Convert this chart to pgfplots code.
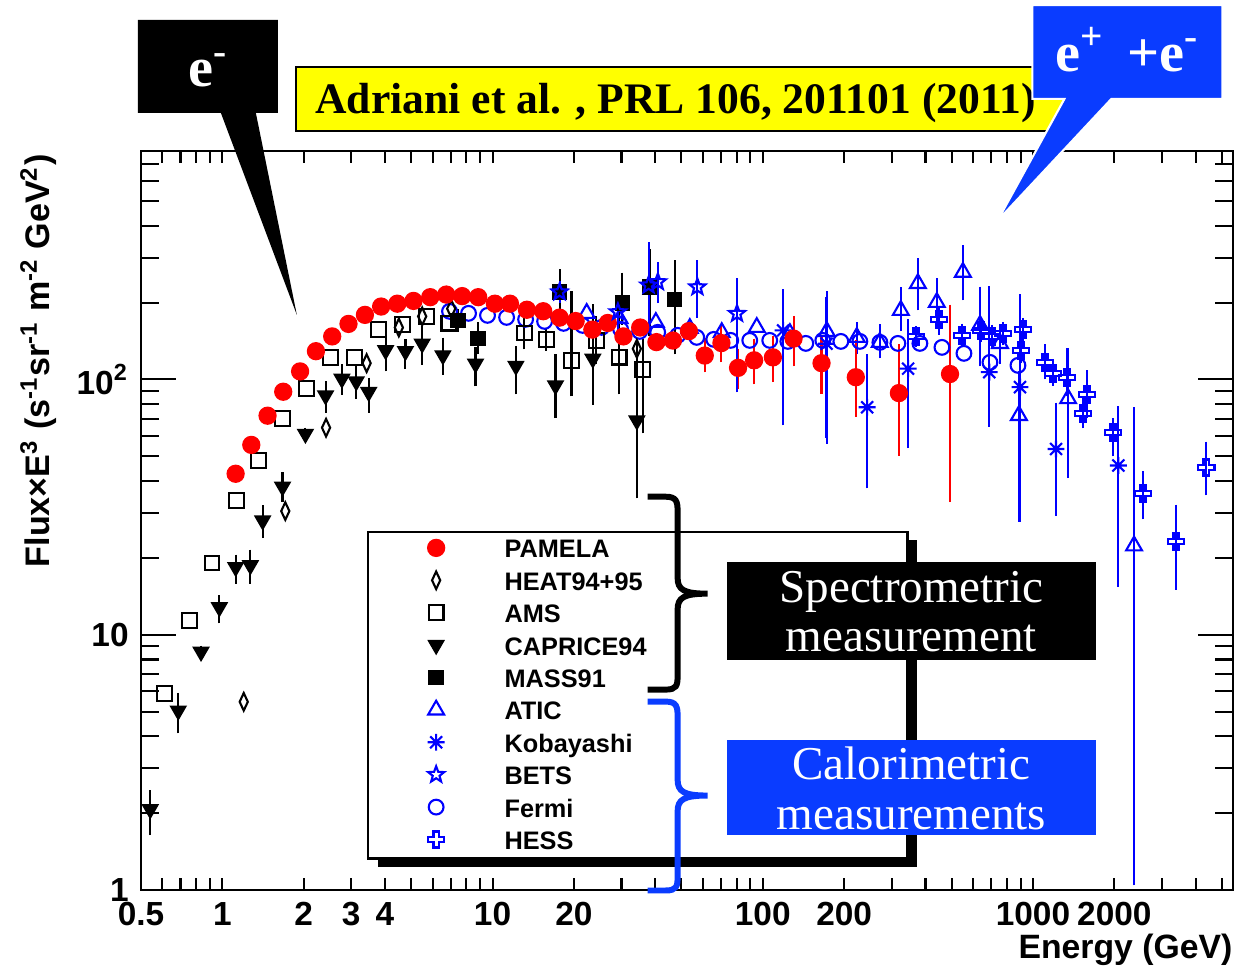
\documentclass[border=0pt]{standalone}
\usepackage{pgfplots}
\pgfplotsset{compat=1.18}
\usepackage{pgfplotstable}
\usepackage{fontspec}
\setmainfont{Liberation Serif}
\setsansfont{Liberation Sans}
\definecolor{boxblue}{RGB}{10,60,255}
\definecolor{ylw}{RGB}{255,255,0}

\pgfdeclareplotmark{ostar}{%
  \pgfpathmoveto{\pgfpointpolar{90}{\pgfplotmarksize}}%
  \pgfpathlineto{\pgfpointpolar{126}{0.42\pgfplotmarksize}}%
  \pgfpathlineto{\pgfpointpolar{162}{\pgfplotmarksize}}%
  \pgfpathlineto{\pgfpointpolar{198}{0.42\pgfplotmarksize}}%
  \pgfpathlineto{\pgfpointpolar{234}{\pgfplotmarksize}}%
  \pgfpathlineto{\pgfpointpolar{270}{0.42\pgfplotmarksize}}%
  \pgfpathlineto{\pgfpointpolar{306}{\pgfplotmarksize}}%
  \pgfpathlineto{\pgfpointpolar{342}{0.42\pgfplotmarksize}}%
  \pgfpathlineto{\pgfpointpolar{18}{\pgfplotmarksize}}%
  \pgfpathlineto{\pgfpointpolar{54}{0.42\pgfplotmarksize}}%
  \pgfpathclose
  \pgfusepathqstroke
}
\pgfdeclareplotmark{hessplus}{%
  \pgfpathmoveto{\pgfpoint{0.32\pgfplotmarksize}{\pgfplotmarksize}}%
  \pgfpathlineto{\pgfpoint{0.32\pgfplotmarksize}{0.32\pgfplotmarksize}}%
  \pgfpathlineto{\pgfpoint{\pgfplotmarksize}{0.32\pgfplotmarksize}}%
  \pgfpathlineto{\pgfpoint{\pgfplotmarksize}{-0.32\pgfplotmarksize}}%
  \pgfpathlineto{\pgfpoint{0.32\pgfplotmarksize}{-0.32\pgfplotmarksize}}%
  \pgfpathlineto{\pgfpoint{0.32\pgfplotmarksize}{-1\pgfplotmarksize}}%
  \pgfpathlineto{\pgfpoint{-0.32\pgfplotmarksize}{-1\pgfplotmarksize}}%
  \pgfpathlineto{\pgfpoint{-0.32\pgfplotmarksize}{-0.32\pgfplotmarksize}}%
  \pgfpathlineto{\pgfpoint{-1\pgfplotmarksize}{-0.32\pgfplotmarksize}}%
  \pgfpathlineto{\pgfpoint{-1\pgfplotmarksize}{0.32\pgfplotmarksize}}%
  \pgfpathlineto{\pgfpoint{-0.32\pgfplotmarksize}{0.32\pgfplotmarksize}}%
  \pgfpathlineto{\pgfpoint{-0.32\pgfplotmarksize}{\pgfplotmarksize}}%
  \pgfpathclose
  \pgfusepathqstroke
}
\pgfdeclareplotmark{ast8}{%
  \pgfpathmoveto{\pgfpoint{-1\pgfplotmarksize}{0pt}}\pgfpathlineto{\pgfpoint{\pgfplotmarksize}{0pt}}%
  \pgfpathmoveto{\pgfpoint{0pt}{-1\pgfplotmarksize}}\pgfpathlineto{\pgfpoint{0pt}{\pgfplotmarksize}}%
  \pgfpathmoveto{\pgfpoint{-0.707\pgfplotmarksize}{-0.707\pgfplotmarksize}}\pgfpathlineto{\pgfpoint{0.707\pgfplotmarksize}{0.707\pgfplotmarksize}}%
  \pgfpathmoveto{\pgfpoint{-0.707\pgfplotmarksize}{0.707\pgfplotmarksize}}\pgfpathlineto{\pgfpoint{0.707\pgfplotmarksize}{-0.707\pgfplotmarksize}}%
  \pgfusepathqstroke
}

\pgfplotstableread{
x y ep em
1.12 42.7 0 0
1.28 55.4 0 0
1.47 72.1 0 0
1.68 89.5 0 0
1.94 107.5 0 0
2.22 129 0 0
2.55 147.4 0 0
2.93 165 0 0
3.37 179 0 0
3.87 193 0 0
4.44 198 0 0
5.10 203 0 0
5.88 210 0 0
6.74 215 0 0
7.72 212 0 0
8.85 210 0 0
10.2 198 0 0
11.6 198 0 0
13.4 187.5 0 0
15.4 185 0 0
17.7 174.6 0 0
20.3 169.3 0 0
23.4 156.7 0 0
26.7 166.4 0 0
30.5 147.4 0 0
35.2 159.7 0 0
40.4 140 0 0
46.5 142 0 0
53.3 154.6 0 0
61 124 13.2 11.6
70.3 138.8 14.2 15.8
81 111 14 14.5
92.9 118.8 18.2 17.8
109 122 18 19
130 144.5 23.5 25.7
165 115.8 24.2 23
221 102 32.6 26.5
319 88.4 41.6 35.4
493 105 81 70.1
}\pamela

\pgfplotstableread{
x y ep em
0.541 2.07 0.26 0.34
0.687 5.04 0.57 0.71
0.834 8.57 0 0
0.975 12.8 0.7 1.1
1.12 18.4 1.1 1.7
1.27 18.7 1.7 2.0
1.41 28.0 2.5 2.8
1.67 38.0 3 3
2.03 61.2 0 0
2.41 86.5 6.8 8.2
2.77 100.6 7.9 8.6
3.13 98.2 8.6 9.8
3.48 89.2 7.0 10.9
4.02 130 10 16.5
4.76 129 7 13.2
5.49 138 15 17.5
6.55 124.2 13.8 14.2
8.65 115.2 11.3 16.1
12.2 113 15 20.8
17.1 94.7 24.1 20.2
23.5 120.5 66 36.5
34.2 69.0 64.9 32.9
}\caprice

\pgfplotstableread{
x y
1.2 5.46
1.71 30.5
2.42 64.7
3.42 115.8
4.5 159.7
5.49 176.6
7.03 189.3
34.2 131.9
}\heat

\pgfplotstableread{
x y
0.61 5.89
0.755 11.35
0.916 19.1
1.13 33.5
1.36 48.1
1.67 70.1
2.05 92
2.51 121.6
3.08 121.6
3.79 156.6
4.65 164
5.68 176.6
6.89 166.2
}\amsa

\pgfplotstableread{
x y ep em
13.1 152 18.2 13.6
15.8 143.2 6.5 6.3
19.6 118.8 91 28.2
24.2 142.2 25.2 21.4
29.4 122.3 52.7 30.1
36.0 109.1 26.8 44.2
}\amsb

\pgfplotstableread{
x y ep em
7.44 170.2 8 8
8.83 144.5 14 12.1
17.7 219.8 35.9 27.5
30.2 199 49.1 26
38.1 230 76 74.4
47.2 205.6 71.9 73.2
}\mass

\pgfplotstableread{
x y ep em
17.7 219.8 10 10
29.1 183.7 17 20
37.8 233.8 92.8 73.8
40.9 240.9 31.1 31
57.3 230 47.5 46.3
80.3 181 55 87.1
}\bets

\pgfplotstableread{
x y ep em
118.9 155.6 57.7 85.9
172.2 138 72.2 79
243.4 77.8 41 38.3
345 110.2 52.7 53.4
689 106.8 112.8 37.8
895 93.3 110.7 64
1217 53.4 23.5 22.5
2070 46.0 28.5 29.7
}\koba

\pgfplotstableread{
x y
22.3 181.6
29.5 173.4
40.2 167.4
53.7 158.5
70.5 152.8
95 160
126 151.4
172.6 154.1
}\atica

\pgfplotstableread{
x y ep em
222.8 146.2 12.3 13.8
271 139.7 15.9 12.1
324.3 186.5 31.3 23.5
375 237.6 44.9 40.7
440.6 200.4 35.6 25
550.3 263 55.4 47.6
636.8 163 56 44.2
755 138.4 17.2 17.6
887 72.3 29.8 43
1349 84.1 41.3 40.8
2366 22.3 51.3 21.2
}\aticb

\pgfplotstableread{
x y ep em
368.6 147.4 6 6
448.7 171.9 11.8 13.9
545.7 148.8 8 8
641.6 155.6 8 8
704.7 147.4 8 8
774 151.4 8 8
903 130 8 8
918 157.1 8 8
1108 116.6 13.4 11
1186 105.6 6 6
1336 101.8 23.6 11.2
1531 73.6 6.9 5.8
1585 87.3 15.4 13
1977 61.9 4.8 9.2
2553 35.7 5.6 5.8
3385 23.2 7.4 7.4
4375 45.2 8.9 8.1
}\hess

\pgfplotstableread{
x y
6.93 184.8
8.15 181.5
9.58 178.2
11.27 175.0
13.25 171.9
15.58 168.8
18.32 165.8
21.54 162.8
25.33 159.9
29.79 157.1
35.03 154.2
40.85 152.9
48.45 148.8
56.97 146.1
65.85 143.5
76.1 142.2
89.5 142.2
106.1 142.2
123.8 140.9
144.3 138.4
166.8 142.2
194.5 140.9
228.7 140.9
271.3 139.7
316.2 138.4
381.5 138.4
460.3 133.5
555.2 126.5
692.9 116.6
879.8 113.5
}\fermi

\pgfplotsset{
  pamS/.style={only marks, mark=*, color=red, mark size=2.4pt},
  heatS/.style={only marks, mark=diamond, color=black, mark size=2.5pt, mark options={xscale=0.62, line width=0.6pt}},
  amsS/.style={only marks, mark=square, color=black, mark size=2.1pt, mark options={line width=0.6pt}},
  capS/.style={only marks, mark=triangle*, color=black, mark size=2.5pt, mark options={rotate=180}},
  massS/.style={only marks, mark=square*, color=black, mark size=2.0pt},
  aticS/.style={only marks, mark=triangle, color=blue, mark size=2.6pt, mark options={line width=0.6pt}},
  kobS/.style={only marks, mark=ast8, color=blue, mark size=2.4pt, mark options={line width=0.6pt}},
  betsS/.style={only marks, mark=ostar, color=blue, mark size=2.4pt, mark options={line width=0.6pt}},
  fermiS/.style={only marks, mark=o, color=blue, mark size=2.1pt, mark options={line width=0.6pt}},
  hessS/.style={only marks, mark=hessplus, color=blue, mark size=2.3pt, mark options={line width=0.7pt}},
  errS/.style={error bars/y dir=both, error bars/y explicit,
     error bars/error bar style={#1, line width=0.6pt},
     error bars/error mark options={#1, mark size=1.7pt, line width=0.6pt}},
}

\begin{document}
\begin{tikzpicture}
\path[use as bounding box] (0,0) rectangle (12.45cm,-9.68cm);
\begin{scope}[x=0.01cm,y=-0.01cm]
  \fill[black] (378,540) rectangle (918,867);
  \filldraw[fill=white, draw=black, line width=0.6pt] (368,532) rectangle (908,859);
\end{scope}

\begin{axis}[
  at={(1.41cm,-8.90cm)}, anchor=south west,
  scale only axis, width=10.92cm, height=7.39cm,
  xmode=log, ymode=log,
  xmin=0.5, xmax=5500, ymin=1, ymax=785,
  axis line style={line width=0.7pt},
  tick style={line width=0.6pt, black},
  major tick length=0.22cm, minor tick length=0.12cm,
  xtick={0.5,1,2,3,4,10,20,100,200,1000,2000},
  xticklabels={0.5,1,2,3,4,10,20,100,200,1000,2000},
  xtick style={/pgfplots/major tick length=0.12cm},
  minor xtick={0.6,0.7,0.8,0.9,2,3,4,5,6,7,8,9,20,30,40,50,60,70,80,90,200,300,400,500,600,700,800,900,2000,3000,4000,5000},
  minor x tick style={/pgfplots/minor tick length=0.12cm},
  extra x ticks={1,10,100,1000}, extra x tick labels={},
  extra x tick style={/pgfplots/major tick length=0.22cm},
  ytick={1,10,100},
  yticklabels={1,10,10\textsuperscript{2}},
  ytick style={/pgfplots/major tick length=0.35cm},
  minor ytick={2,3,4,5,6,7,8,9,20,30,40,50,60,70,80,90,200,300,400,500,600,700},
  minor y tick style={/pgfplots/minor tick length=0.18cm},
  tick label style={font=\sffamily\bfseries\fontsize{9.5}{11}\selectfont},
  xlabel={Energy (GeV)},
  xlabel style={at={(rel axis cs:1,0)}, anchor=base east, yshift=-0.68cm, inner sep=0pt, font=\sffamily\bfseries\fontsize{9.6}{11}\selectfont},
  ylabel={Flux\texttimes E\textsuperscript{3} (s\textsuperscript{-1}sr\textsuperscript{-1} m\textsuperscript{-2} GeV\textsuperscript{2})},
  ylabel style={at={(rel axis cs:-0.094,0.996)}, anchor=east, inner sep=0pt, font=\sffamily\bfseries\fontsize{9.7}{11}\selectfont},
  legend style={draw=none, fill=none, at={(0.2619,0.4858)}, anchor=north west,
     inner sep=0pt, row sep=0pt, column sep=0.60cm,
     nodes={inner sep=0pt, text height=0.262cm, text depth=0.062cm, font=\sffamily\bfseries\fontsize{7.2}{8}\selectfont}},
  legend cell align=left,
]
\addplot[fermiS, forget plot] table[x=x,y=y] {\fermi};
\addplot[aticS, forget plot] table[x=x,y=y] {\atica};
\addplot[aticS, forget plot, errS=blue] table[x=x,y=y,y error plus=ep,y error minus=em] {\aticb};
\addplot[hessS, forget plot, errS=blue] table[x=x,y=y,y error plus=ep,y error minus=em] {\hess};
\addplot[kobS, forget plot, errS=blue] table[x=x,y=y,y error plus=ep,y error minus=em] {\koba};
\addplot[amsS, forget plot] table[x=x,y=y] {\amsa};
\addplot[amsS, forget plot, errS=black] table[x=x,y=y,y error plus=ep,y error minus=em] {\amsb};
\addplot[capS, forget plot, errS=black] table[x=x,y=y,y error plus=ep,y error minus=em] {\caprice};
\addplot[heatS, forget plot] table[x=x,y=y] {\heat};
\addplot[massS, forget plot, errS=black] table[x=x,y=y,y error plus=ep,y error minus=em] {\mass};
\addplot[pamS, forget plot, errS=red] table[x=x,y=y,y error plus=ep,y error minus=em] {\pamela};
\addplot[betsS, forget plot, errS=blue] table[x=x,y=y,y error plus=ep,y error minus=em] {\bets};

\addlegendimage{pamS}\addlegendentry{PAMELA}
\addlegendimage{heatS}\addlegendentry{HEAT94+95}
\addlegendimage{amsS}\addlegendentry{AMS}
\addlegendimage{capS}\addlegendentry{CAPRICE94}
\addlegendimage{massS}\addlegendentry{MASS91}
\addlegendimage{aticS}\addlegendentry{ATIC}
\addlegendimage{kobS}\addlegendentry{Kobayashi}
\addlegendimage{betsS}\addlegendentry{BETS}
\addlegendimage{fermiS}\addlegendentry{Fermi}
\addlegendimage{hessS}\addlegendentry{HESS}
\end{axis}

\begin{scope}[x=0.01cm,y=-0.01cm]
  % e- callout
  \fill[black] (138,20) -- (278,20) -- (278,113) -- (256,113) -- (297,315) -- (221,113) -- (138,113) -- cycle;
  \node[text=white, font=\bfseries\fontsize{16}{18}\selectfont, anchor=base, inner sep=0pt] at (209,87) {e\textsuperscript{-}};
  % yellow reference box
  \filldraw[fill=ylw, draw=black, line width=0.5pt] (296,67) rectangle (1070,131);
  \node[anchor=base west, inner sep=0pt, font=\bfseries\fontsize{12.4}{14}\selectfont] at (315,114) {Adriani et al. , PRL 106, 201101 (2011)};
  % e+ + e- callout
  \filldraw[fill=boxblue, draw=white, line width=0.6pt] (1033,5) -- (1223,5) -- (1223,99) -- (1112,99) -- (998,221) -- (1065,99) -- (1033,99) -- cycle;
  \node[text=white, font=\bfseries\fontsize{16}{18}\selectfont, anchor=base, inner sep=0pt] at (1128,72) {e\textsuperscript{+}\hspace{0.22cm}+e\textsuperscript{-}};
  % braces
  \draw[line width=1.7pt, black] (648,497) -- (666,497) .. controls (677,497) and (678,502) .. (678,512) -- (678,578) .. controls (678,590) and (684,594) .. (708,594) .. controls (684,594) and (678,598) .. (678,610) -- (678,676) .. controls (678,686) and (677,690) .. (666,690) -- (648,690);
  \draw[line width=1.7pt, boxblue] (648,702) -- (666,702) .. controls (677,702) and (678,707) .. (678,717) -- (678,780) .. controls (678,792) and (684,796) .. (708,796) .. controls (684,796) and (678,800) .. (678,812) -- (678,877) .. controls (678,887) and (677,891) .. (666,891) -- (648,891);
  % category boxes
  \fill[black] (727,562) rectangle (1097,660);
  \node[text=white, align=center, font=\fontsize{13.4}{13.9}\selectfont] at (912,612) {Spectrometric\\measurement};
  \fill[boxblue] (727,740) rectangle (1097,835);
  \node[text=white, align=center, font=\fontsize{13.4}{14.2}\selectfont] at (912,789) {Calorimetric\\measurements};
\end{scope}
\end{tikzpicture}
\end{document}
